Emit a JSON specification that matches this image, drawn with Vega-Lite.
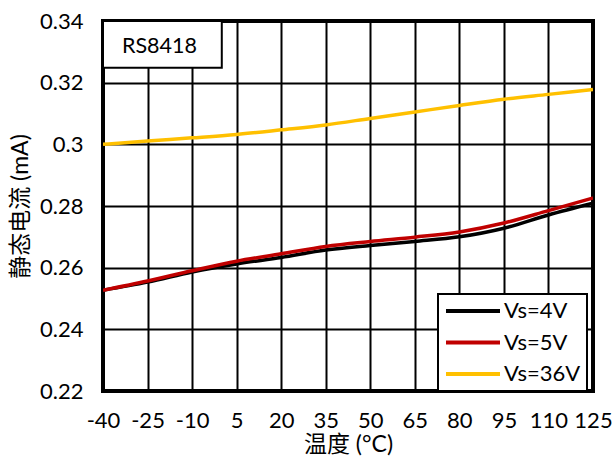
{
  "$schema": "https://vega.github.io/schema/vega-lite/v6.json",
  "width": 490,
  "height": 370,
  "autosize": "none",
  "padding": {"left": 103, "top": 21, "right": 20, "bottom": 65},
  "background": "white",
  "config": {
    "font": "Lato",
    "view": {"stroke": "black", "strokeWidth": 4},
    "axis": {
      "grid": true,
      "gridColor": "black",
      "gridWidth": 2,
      "gridOpacity": 1,
      "domain": false,
      "ticks": false,
      "labelFont": "Lato",
      "labelFontSize": 22,
      "labelColor": "black",
      "labelOverlap": false,
      "labelFlush": false,
      "titleFont": "Lato, Noto Sans CJK SC",
      "titleFontSize": 23,
      "titleFontWeight": "normal",
      "titleColor": "black"
    },
    "legend": {
      "labelFont": "Lato",
      "labelFontSize": 22,
      "labelColor": "black"
    }
  },
  "layer": [
    {
      "data": {
        "values": [
          {"t": -40, "v": 0.2527, "series": "Vs=4V"},
          {"t": -25, "v": 0.2553, "series": "Vs=4V"},
          {"t": -10, "v": 0.2586, "series": "Vs=4V"},
          {"t": 5, "v": 0.2612, "series": "Vs=4V"},
          {"t": 20, "v": 0.2633, "series": "Vs=4V"},
          {"t": 35, "v": 0.2657, "series": "Vs=4V"},
          {"t": 50, "v": 0.2672, "series": "Vs=4V"},
          {"t": 65, "v": 0.2685, "series": "Vs=4V"},
          {"t": 80, "v": 0.2700, "series": "Vs=4V"},
          {"t": 95, "v": 0.2728, "series": "Vs=4V"},
          {"t": 110, "v": 0.2771, "series": "Vs=4V"},
          {"t": 125, "v": 0.2809, "series": "Vs=4V"},
          {"t": -40, "v": 0.2527, "series": "Vs=5V"},
          {"t": -25, "v": 0.2557, "series": "Vs=5V"},
          {"t": -10, "v": 0.2590, "series": "Vs=5V"},
          {"t": 5, "v": 0.2621, "series": "Vs=5V"},
          {"t": 20, "v": 0.2645, "series": "Vs=5V"},
          {"t": 35, "v": 0.2669, "series": "Vs=5V"},
          {"t": 50, "v": 0.2685, "series": "Vs=5V"},
          {"t": 65, "v": 0.2699, "series": "Vs=5V"},
          {"t": 80, "v": 0.2716, "series": "Vs=5V"},
          {"t": 95, "v": 0.2745, "series": "Vs=5V"},
          {"t": 110, "v": 0.2785, "series": "Vs=5V"},
          {"t": 125, "v": 0.2826, "series": "Vs=5V"},
          {"t": -40, "v": 0.3000, "series": "Vs=36V"},
          {"t": -25, "v": 0.3011, "series": "Vs=36V"},
          {"t": -10, "v": 0.3021, "series": "Vs=36V"},
          {"t": 5, "v": 0.3032, "series": "Vs=36V"},
          {"t": 20, "v": 0.3047, "series": "Vs=36V"},
          {"t": 35, "v": 0.3063, "series": "Vs=36V"},
          {"t": 50, "v": 0.3084, "series": "Vs=36V"},
          {"t": 65, "v": 0.3105, "series": "Vs=36V"},
          {"t": 80, "v": 0.3126, "series": "Vs=36V"},
          {"t": 95, "v": 0.3146, "series": "Vs=36V"},
          {"t": 110, "v": 0.3162, "series": "Vs=36V"},
          {"t": 125, "v": 0.3178, "series": "Vs=36V"}
        ]
      },
      "mark": {"type": "line", "interpolate": "monotone", "strokeWidth": 3.5, "clip": true},
      "encoding": {
        "x": {
          "field": "t",
          "type": "quantitative",
          "title": "温度 (°C)",
          "scale": {"domain": [-40, 125], "nice": false, "zero": false},
          "axis": {
            "values": [-40, -25, -10, 5, 20, 35, 50, 65, 80, 95, 110, 125],
            "labelExpr": "'' + datum.value",
            "labelPadding": 19,
            "titlePadding": 2
          }
        },
        "y": {
          "field": "v",
          "type": "quantitative",
          "title": "静态电流 (mA)",
          "scale": {"domain": [0.22, 0.34], "nice": false, "zero": false},
          "axis": {
            "values": [0.22, 0.24, 0.26, 0.28, 0.3, 0.32, 0.34],
            "format": "~g",
            "labelPadding": 20,
            "titlePadding": 7
          }
        },
        "color": {
          "field": "series",
          "type": "nominal",
          "scale": {
            "domain": ["Vs=4V", "Vs=5V", "Vs=36V"],
            "range": ["#000000", "#C00000", "#FFC000"]
          },
          "legend": {
            "title": null,
            "orient": "none",
            "legendX": 335,
            "legendY": 273,
            "fillColor": "white",
            "strokeColor": "black",
            "padding": 6,
            "symbolType": "M-4.5,0H4.5",
            "symbolSize": 144,
            "symbolStrokeWidth": 4,
            "symbolOffset": 18,
            "labelOffset": 20,
            "rowPadding": 9.5,
            "encode": {"legend": {"update": {"strokeWidth": {"value": 2}}}}
          }
        }
      }
    },
    {
      "data": {"values": [{"label": "RS8418"}]},
      "layer": [
        {
          "mark": {"type": "rect", "fill": "white", "stroke": "black", "strokeWidth": 2},
          "encoding": {
            "x": {"datum": -40},
            "x2": {"datum": 0},
            "y": {"datum": 0.34},
            "y2": {"datum": 0.3248}
          }
        },
        {
          "mark": {"type": "text", "font": "Lato", "fontSize": 21.5, "fill": "black", "align": "center", "baseline": "middle"},
          "encoding": {
            "x": {"datum": -21},
            "y": {"datum": 0.3316},
            "text": {"field": "label", "type": "nominal"}
          }
        }
      ]
    }
  ]
}
